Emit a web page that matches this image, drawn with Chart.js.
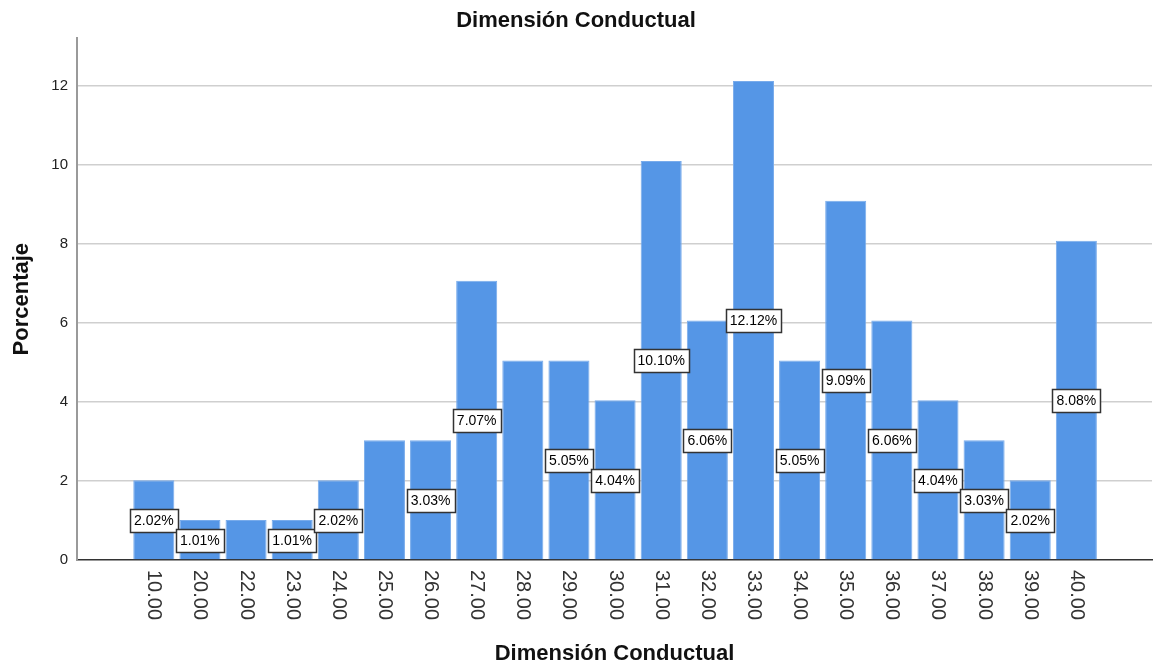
<!DOCTYPE html>
<html>
<head>
<meta charset="utf-8">
<title>Dimensión Conductual</title>
<script src="https://cdn.jsdelivr.net/npm/chart.js@4"></script>
<style>
  html, body { margin: 0; padding: 0; background: #fff; }
</style>
</head>
<body>
<canvas id="chart" width="1160" height="668"></canvas>
<script>
// Categories and percentages
const categories = ["10.00", "20.00", "22.00", "23.00", "24.00", "25.00", "26.00", "27.00", "28.00", "29.00",
                    "30.00", "31.00", "32.00", "33.00", "34.00", "35.00", "36.00", "37.00", "38.00", "39.00", "40.00"];
const percentages = [2.02, 1.01, 1.01, 1.01, 2.02, 3.03, 3.03, 7.07, 5.05, 5.05,
                     4.04, 10.10, 6.06, 12.12, 5.05, 9.09, 6.06, 4.04, 3.03, 2.02, 8.08];
// labels SPSS dropped because they would overlap
const hiddenLabels = ["22.00", "25.00", "28.00"];
const yTicks = [0, 2, 4, 6, 8, 10, 12];

const FONT = '"Liberation Sans", Arial, sans-serif';

// Draw the value boxes and the rotated category labels
const decorations = {
    id: "decorations",
    afterDatasetsDraw(chart) {
        const ctx = chart.ctx;
        const meta = chart.getDatasetMeta(0);
        const xScale = chart.scales.x;
        ctx.save();

        // value boxes at half bar height
        ctx.font = "14px " + FONT;
        ctx.textAlign = "center";
        ctx.textBaseline = "middle";
        meta.data.forEach((bar, i) => {
            if (hiddenLabels.includes(categories[i])) return;
            const text = percentages[i].toFixed(2) + "%";
            const cy = Math.round((bar.y + bar.base) / 2);
            const w = Math.round(ctx.measureText(text).width + 8);
            const h = 23;
            const bx = Math.round(bar.x - w / 2) + 0.5;
            const by = Math.round(cy - h / 2) + 0.5;
            ctx.fillStyle = "#fff";
            ctx.fillRect(bx, by, w, h);
            ctx.strokeStyle = "#333";
            ctx.lineWidth = 1.5;
            ctx.strokeRect(bx, by, w, h);
            ctx.fillStyle = "#000";
            ctx.fillText(text, bar.x, cy + 1);
        });

        // category labels, reading top to bottom
        ctx.font = "20px " + FONT;
        ctx.fillStyle = "#333";
        ctx.textAlign = "left";
        categories.forEach((c, i) => {
            const x = xScale.getPixelForValue(i);
            ctx.save();
            ctx.translate(x, xScale.top + 10);
            ctx.rotate(Math.PI / 2);
            ctx.fillText(c, 0, 0);
            ctx.restore();
        });

        ctx.restore();
    }
};

const ctx = document.getElementById("chart").getContext("2d");
new Chart(ctx, {
    type: "bar",
    data: {
        datasets: [{
            label: "Porcentaje",
            data: percentages.map((v, i) => ({ x: i, y: v })),
            backgroundColor: "#5596e6",
            borderColor: "#78abeb",
            borderWidth: 1,
            categoryPercentage: 1,
            barPercentage: 0.89
        }]
    },
    options: {
        responsive: false,
        animation: false,
        layout: { padding: { left: 0, right: 8, top: 0, bottom: 0 } },
        plugins: {
            legend: { display: false },
            tooltip: { enabled: false },
            title: {
                display: true,
                text: "Dimensión Conductual",
                color: "#111",
                font: { family: FONT, size: 22, weight: "bold" },
                padding: { top: 8, bottom: 4 }
            }
        },
        scales: {
            x: {
                type: "linear",
                min: -1.665,
                max: 21.64,
                offset: false,
                ticks: { display: false },
                grid: { display: false, offset: false },
                border: { display: true, color: "#333", width: 1.5 },
                afterFit: s => { s.height = 108; },
                title: {
                    display: true,
                    text: "Dimensión Conductual",
                    color: "#111",
                    font: { family: FONT, size: 22, weight: "bold" },
                    padding: { top: 0, bottom: 1 }
                }
            },
            y: {
                min: 0,
                max: 13.2,
                afterBuildTicks: s => { s.ticks = yTicks.map(v => ({ value: v })); },
                afterFit: s => { s.width = 77; },
                ticks: {
                    padding: 9,
                    color: "#222",
                    font: { family: FONT, size: 15 }
                },
                grid: {
                    color: c => (c.tick && c.tick.value === 0) ? "rgba(0,0,0,0)" : "#cfcfcf",
                    lineWidth: 1.5,
                    drawTicks: false
                },
                border: { display: true, color: "#9a9a9a", width: 2 },
                title: {
                    display: true,
                    text: "Porcentaje",
                    color: "#111",
                    font: { family: FONT, size: 22, weight: "bold" },
                    padding: { top: 9, bottom: 0 }
                }
            }
        }
    },
    plugins: [decorations]
});
</script>
</body>
</html>
